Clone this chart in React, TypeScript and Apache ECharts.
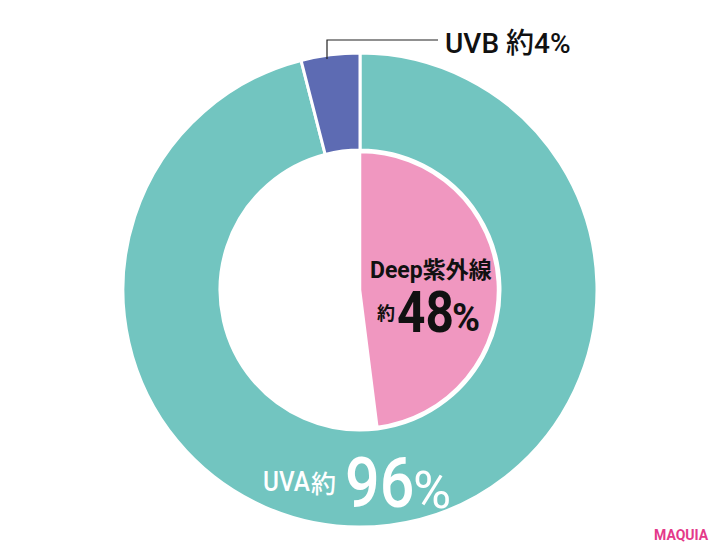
import React, { useEffect, useRef } from 'react';
import * as echarts from 'echarts';

// outer ring: UVA / UVB share of UV reaching the ground
const ringNames = ['UVA', 'UVB'];
const ringValues = [96, 4];
// inner pie: Deep UV share (rest left empty)
const innerNames = ['Deep紫外線', ''];
const innerValues = [48, 52];
const approx = '約';
const brand = 'MAQUIA';

const TEAL = '#72c5c0';
const INDIGO = '#5d6bb3';
const PINK = '#f097c0';
const FONT = "Roboto, 'Noto Sans CJK JP', sans-serif";

const txt = (
  text: string,
  x: number,
  y: number,
  size: number,
  weight: number | string,
  fill: string,
  scaleX = 1,
) => ({
  type: 'text',
  x,
  y,
  z: 100,
  scaleX,
  silent: true,
  style: {
    text,
    fill,
    font: `${weight} ${size}px ${FONT}`,
    align: 'left',
    verticalAlign: 'middle',
  },
});

const App: React.FC = () => {
  const chartRef = useRef<HTMLDivElement>(null);

  useEffect(() => {
    if (!chartRef.current) return;
    const chart = echarts.init(chartRef.current, undefined, { renderer: 'svg' });

    const option: echarts.EChartsOption = {
      animation: false,
      backgroundColor: '#ffffff',
      series: [
        {
          type: 'pie',
          center: [360, 290],
          radius: [140, 237],
          startAngle: 90,
          clockwise: true,
          silent: true,
          label: { show: false },
          labelLine: { show: false },
          emphasis: { disabled: true },
          itemStyle: { borderColor: '#ffffff', borderWidth: 3 },
          data: ringNames.map((name, i) => ({
            name,
            value: ringValues[i],
            itemStyle: { color: i === 0 ? TEAL : INDIGO },
          })),
        },
        {
          type: 'pie',
          center: [360, 290],
          radius: [0, 138],
          startAngle: 90,
          clockwise: true,
          silent: true,
          label: { show: false },
          labelLine: { show: false },
          emphasis: { disabled: true },
          data: innerNames.map((name, i) => ({
            name,
            value: innerValues[i],
            itemStyle:
              i === 0
                ? { color: PINK, borderColor: '#ffffff', borderWidth: 2.5 }
                : { color: 'transparent', borderWidth: 0 },
          })),
        },
      ],
      graphic: [
        {
          type: 'polyline',
          z: 100,
          silent: true,
          shape: { points: [[327, 59], [327, 40], [438, 40]] },
          style: { stroke: '#222222', lineWidth: 1.2, fill: 'none' },
        },
        txt(`${ringNames[1]} ${approx}${ringValues[1]}%`, 445, 43, 28, 500, '#111111'),
        txt(innerNames[0], 370, 270, 23, 'bold', '#111111'),
        txt(approx, 377, 313, 18, 'bold', '#111111'),
        txt(String(innerValues[0]), 397, 312, 57, 'bold', '#111111', 0.87),
        txt('%', 452, 318, 38, 'bold', '#111111'),
        txt(ringNames[0], 263, 482, 27, 500, '#ffffff', 0.9),
        txt(approx, 311, 484, 25, 500, '#ffffff'),
        txt(String(ringValues[0]), 345, 483, 71, 500, '#ffffff', 0.86),
        txt('%', 413, 490, 52, 400, '#ffffff'),
        txt(brand, 654, 535, 14, 'bold', '#e4398a'),
      ] as any,
    };

    chart.setOption(option);

    return () => {
      chart.dispose();
    };
  }, []);

  return (
    <div
      ref={chartRef}
      style={{ position: 'fixed', left: 0, top: 0, width: '720px', height: '554px' }}
    />
  );
};

export default App;
